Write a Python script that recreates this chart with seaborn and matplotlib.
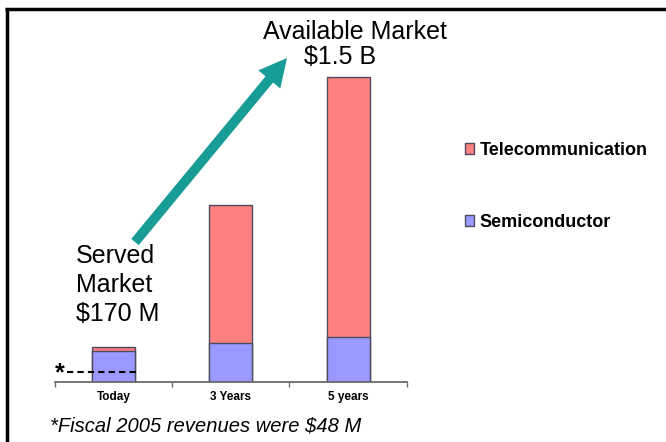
import matplotlib
matplotlib.use("Agg")
import matplotlib.pyplot as plt
from matplotlib.patches import Patch, FancyArrowPatch
from matplotlib.lines import Line2D
import pandas as pd
import seaborn as sns

# Market size by horizon, $M
periods = ["Today", "3 Years", "5 years"]
semiconductor = [152, 191, 221]
telecommunication = [18, 678, 1279]
fiscal_2005_revenue = 48
series_labels = ["Telecommunication", "Semiconductor"]

sns.set_style("white")
plt.rcParams["font.family"] = ["Liberation Sans", "DejaVu Sans"]
plt.rcParams["text.color"] = "black"
plt.rcParams["xtick.color"] = "black"
plt.rcParams["xtick.labelcolor"] = "black"

W, H = 666, 442
fig = plt.figure(figsize=(W / 100, H / 100), dpi=100)
fig.patch.set_facecolor("white")


def fx(px):
    return px / W


def fy(py):
    return 1 - py / H


RED = "#FF8080"
BLUE = "#9999FF"
EDGE = "#4d4b5c"
GRAY = "#6b6b6b"
TEAL = "#179C96"

y_top = 1600
px_per_unit = (381.7 - 77) / 1500
ax_h = y_top * px_per_unit
ax = fig.add_axes([fx(55), fy(381.7), fx(406.7) - fx(55), ax_h / H])

df = pd.DataFrame({"period": periods,
                   "Semiconductor": semiconductor,
                   "Telecommunication": telecommunication})
df["total"] = df["Semiconductor"] + df["Telecommunication"]

bar_kw = dict(width=0.367, edgecolor=EDGE, linewidth=1.0, saturation=1,
              errorbar=None, ax=ax)
# stacked bars: full height in telecom colour, semiconductor share on top of it
sns.barplot(data=df, x="period", y="total", color=RED, **bar_kw)
sns.barplot(data=df, x="period", y="Semiconductor", color=BLUE, **bar_kw)

ax.set_xlim(-0.5, 2.5)
ax.set_ylim(0, y_top)
ax.set_xlabel("")
ax.set_ylabel("")
ax.set_yticks([])
ax.patch.set_alpha(0)

# category separators as ticks, labels centred under the bars
ax.set_xticks([-0.5, 0.5, 1.5, 2.5])
ax.set_xticklabels([])
ax.set_xticks([0, 1, 2], minor=True)
ax.set_xticklabels(periods, minor=True, fontweight="bold", fontsize=8.5,
                   color="black")
ax.tick_params(axis="x", which="major", bottom=True, length=3.6, width=1,
               color=GRAY, direction="out")
ax.tick_params(axis="x", which="minor", bottom=True, length=0, pad=7)
for s in ["top", "right", "left"]:
    ax.spines[s].set_visible(False)
ax.spines["bottom"].set_color(GRAY)
ax.spines["bottom"].set_linewidth(1.3)

# fiscal 2005 revenue marker
ax.hlines(fiscal_2005_revenue, -0.398, 0.225, color="black", lw=1.5,
          linestyles=(0, (3.0, 2.0)))
ax.text(-0.5, 1.5 / px_per_unit, "*", fontsize=18, fontweight="bold",
        ha="left", va="baseline", clip_on=False)

# legend
handles = [Patch(facecolor=RED, edgecolor=EDGE, lw=1),
           Patch(facecolor=BLUE, edgecolor=EDGE, lw=1)]
fig.legend(handles, series_labels, loc="upper left",
           bbox_to_anchor=(fx(465), fy(142)), frameon=False, borderpad=0,
           borderaxespad=0, handlelength=0.52, handleheight=0.52,
           handletextpad=0.3, labelspacing=3.05,
           prop=dict(weight="bold", size=13))

# growth arrow
arrow = FancyArrowPatch(posA=(fx(135), fy(242)), posB=(fx(287), fy(58)),
                        transform=fig.transFigure,
                        arrowstyle="simple,head_length=20,head_width=20.5,tail_width=7",
                        mutation_scale=1, color=TEAL, lw=0,
                        shrinkA=0, shrinkB=0)
fig.add_artist(arrow)

# annotations
fig.text(fx(355), fy(39.3), "Available Market", ha="center", va="baseline", fontsize=18)
fig.text(fx(340.5), fy(64.3), "$1.5 B", ha="center", va="baseline", fontsize=18)
for txt, base in [("Served", 262.7), ("Market", 291.7), ("$170 M", 320.7)]:
    fig.text(fx(76), fy(base), txt, ha="left", va="baseline", fontsize=18)
fig.text(fx(50), fy(431.7), "*Fiscal 2005 revenues were $48 M", ha="left",
         va="baseline", fontsize=14.5, style="italic")

# slide frame
fig.add_artist(Line2D([fx(5), 1], [fy(9), fy(9)], transform=fig.transFigure,
                      color="black", lw=2.5, solid_capstyle="butt"))
fig.add_artist(Line2D([fx(6.7), fx(6.7)], [fy(7.5), 0], transform=fig.transFigure,
                      color="black", lw=2.5, solid_capstyle="butt"))

fig.savefig("out.png", dpi=100)
